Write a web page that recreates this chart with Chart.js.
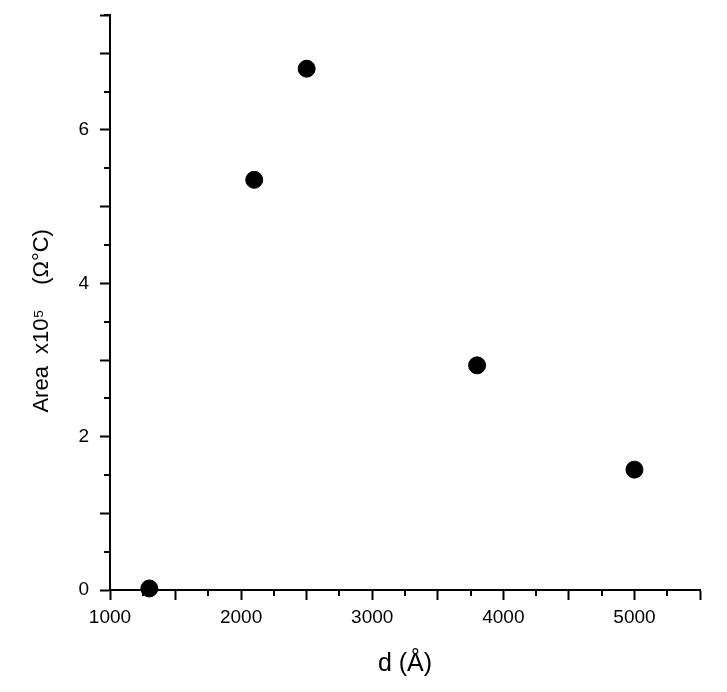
<!DOCTYPE html>
<html>
<head>
<meta charset="utf-8">
<script src="https://cdn.jsdelivr.net/npm/chart.js@4.4.1/dist/chart.umd.min.js"></script>
<style>
  html, body { margin: 0; padding: 0; background: #fff; }
  #wrap { width: 727px; height: 692px; position: relative; }
</style>
</head>
<body>
<div id="wrap"><canvas id="grafico"></canvas></div>
<script>
// dados
const thickness = [1300, 2100, 2500, 3800, 5000];
const area = [0.02, 5.35, 6.8, 2.93, 1.57];
const xTicks = [1000, 2000, 3000, 4000, 5000];
const yTicks = [0, 2, 4, 6];

const tickFont = { family: "'Liberation Sans', Arial, sans-serif", size: 19 };

// ticks menores (metade do tamanho)
const minorTicks = {
  id: 'minorTicks',
  beforeDatasetsDraw(chart) {
    const ctx = chart.ctx;
    const x = chart.scales.x;
    const y = chart.scales.y;
    ctx.save();
    ctx.strokeStyle = '#000';
    ctx.lineWidth = 2;
    ctx.beginPath();
    for (let v = 1250; v <= 5500; v += 500) {
      const px = Math.round(x.getPixelForValue(v));
      ctx.moveTo(px, y.bottom);
      ctx.lineTo(px, y.bottom + 6);
    }
    for (let v = 0.5; v <= 7.5; v += 1) {
      const py = Math.round(y.getPixelForValue(v));
      ctx.moveTo(x.left, py);
      ctx.lineTo(x.left - 6, py);
    }
    ctx.stroke();
    ctx.restore();
  }
};

new Chart(document.getElementById('grafico'), {
  type: 'scatter',
  data: {
    datasets: [{
      data: thickness.map((d, i) => ({ x: d, y: area[i] })),
      backgroundColor: '#000',
      borderColor: '#000',
      pointRadius: 8.5,
      pointHoverRadius: 8.5,
      clip: false
    }]
  },
  options: {
    responsive: true,
    maintainAspectRatio: false,
    animation: false,
    layout: { padding: { top: 15, right: 27, left: 0, bottom: 0 } },
    plugins: {
      legend: { display: false },
      tooltip: { enabled: false }
    },
    scales: {
      x: {
        type: 'linear',
        min: 1000,
        max: 5500,
        afterFit(scale) { scale.height = 102; scale.paddingRight = 0; },
        grid: { drawOnChartArea: false, tickLength: 10, tickWidth: 2, tickColor: '#000' },
        border: { color: '#000', width: 2 },
        ticks: {
          stepSize: 500,
          autoSkip: false,
          maxRotation: 0,
          padding: 6,
          color: '#000',
          font: tickFont,
          callback: v => xTicks.includes(v) ? String(v) : ''
        },
        title: {
          display: true,
          text: 'd (Å)',
          color: '#000',
          font: { family: "'Liberation Sans', Arial, sans-serif", size: 25 },
          padding: { top: 0, bottom: 13 }
        }
      },
      y: {
        min: 0,
        max: 7.5,
        afterFit(scale) { scale.width = 110; scale.paddingTop = 0; },
        grid: { drawOnChartArea: false, tickLength: 10, tickWidth: 2, tickColor: '#000' },
        border: { color: '#000', width: 2 },
        ticks: {
          stepSize: 1,
          autoSkip: false,
          padding: 11,
          color: '#000',
          font: tickFont,
          callback: v => yTicks.includes(v) ? String(v) : ''
        },
        title: {
          display: true,
          text: 'Area  x10⁵    (Ω°C)      ',
          color: '#000',
          font: { family: "'Liberation Sans', Arial, sans-serif", size: 22 },
          padding: { top: 29, bottom: 0 }
        }
      }
    }
  },
  plugins: [minorTicks]
});
</script>
</body>
</html>
